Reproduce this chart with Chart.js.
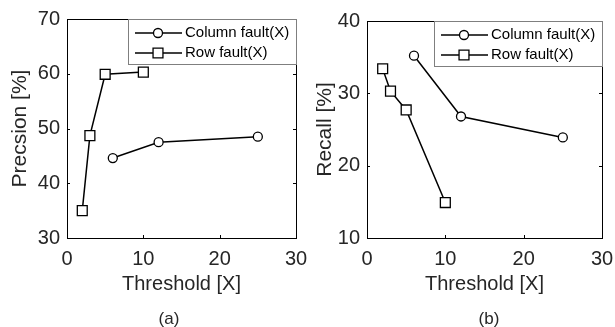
<!DOCTYPE html>
<html>
<head>
<meta charset="utf-8">
<script src="https://cdn.jsdelivr.net/npm/chart.js@4.4.0/dist/chart.umd.min.js"></script>
<style>
  body { margin: 0; background: #fff; width: 615px; height: 327px; overflow: hidden; position: relative; font-family: 'Liberation Sans', Arial, sans-serif; }
  .panel { position: absolute; top: 0; height: 327px; }
  .cap { position: absolute; top: 309px; font-size: 17px; color: #262626; transform: translateX(-50%); }
</style>
</head>
<body>
<div class="panel" style="left:0;width:307px"><canvas id="chartA" width="307" height="327"></canvas></div>
<div class="panel" style="left:307px;width:308px"><canvas id="chartB" width="308" height="327"></canvas></div>
<div class="cap" style="left:169px">(a)</div>
<div class="cap" style="left:489px">(b)</div>
<script>
'use strict'

// thresholds used for each fault type
var colX = [6, 12, 25];
var rowX = [2, 3, 5, 10];

// (a) precision
var colPrecision = [44.6, 47.5, 48.5];
var rowPrecision = [35.0, 48.7, 59.9, 60.3];

// (b) recall
var colRecall = [35.2, 26.8, 23.9];
var rowRecall = [33.4, 30.3, 27.7, 14.9];

var legendLabels = ['Column fault(X)', 'Row fault(X)'];
var xTicks = [0, 10, 20, 30];

var FONT = "'Liberation Sans', Arial, sans-serif";
var TEXT = '#262626';

function toPoints(xs, ys) {
    let pts = [];
    for (let i = 0; i < xs.length; i++) {
        pts.push({x: xs[i], y: ys[i]});
    }
    return pts;
}

// box around plot, inward ticks on all sides, legend in top right corner
var frame = {
    id: 'frame',
    afterDatasetsDraw(chart) {
        const ctx = chart.ctx;
        const a = chart.chartArea;
        const sx = chart.scales.x, sy = chart.scales.y;
        ctx.save();
        ctx.strokeStyle = '#000';
        ctx.lineWidth = 1;
        ctx.strokeRect(a.left + 0.5, a.top + 0.5, a.right - a.left, a.bottom - a.top);
        sx.ticks.forEach(t => {
            let px = Math.round(sx.getPixelForValue(t.value)) + 0.5;
            ctx.beginPath();
            ctx.moveTo(px, a.bottom); ctx.lineTo(px, a.bottom - 3);
            ctx.moveTo(px, a.top); ctx.lineTo(px, a.top + 3);
            ctx.stroke();
        });
        sy.ticks.forEach(t => {
            let py = Math.round(sy.getPixelForValue(t.value)) + 0.5;
            ctx.beginPath();
            ctx.moveTo(a.left, py); ctx.lineTo(a.left + 3, py);
            ctx.moveTo(a.right, py); ctx.lineTo(a.right - 3, py);
            ctx.stroke();
        });

        // legend
        const w = 168, h = 45;
        const lx = a.right - w, ly = a.top;
        ctx.fillStyle = '#fff';
        ctx.fillRect(lx, ly, w, h);
        ctx.strokeStyle = '#7f7f7f';
        ctx.strokeRect(lx + 0.5, ly + 0.5, w, h);
        chart.data.datasets.forEach((ds, i) => {
            let yy = ly + 14 + i * 20;
            ctx.strokeStyle = ds.borderColor;
            ctx.lineWidth = ds.borderWidth;
            ctx.beginPath();
            ctx.moveTo(lx + 7, yy); ctx.lineTo(lx + 54, yy);
            ctx.stroke();
            ctx.fillStyle = '#fff';
            ctx.strokeStyle = '#000';
            ctx.lineWidth = ds.pointBorderWidth;
            Chart.helpers.drawPoint(ctx, {
                pointStyle: ds.pointStyle,
                radius: ds.pointRadius,
                borderWidth: ds.pointBorderWidth,
                rotation: 0
            }, lx + 30, yy);
            ctx.fillStyle = '#000';
            ctx.font = '15px ' + FONT;
            ctx.textBaseline = 'middle';
            ctx.textAlign = 'left';
            ctx.fillText(ds.label, lx + 57, yy);
        });
        ctx.restore();
    }
};

function makeChart(id, colY, rowY, yMin, yMax, yTitle, pad) {
    let ctx = document.getElementById(id).getContext('2d');
    let common = {
        borderColor: '#000',
        borderWidth: 1.5,
        pointBackgroundColor: '#fff',
        pointBorderColor: '#000',
        pointBorderWidth: 1.3,
        backgroundColor: '#fff',
        tension: 0
    };
    return new Chart(ctx, {
        type: 'line',
        data: {
            datasets: [
                Object.assign({label: legendLabels[0], data: toPoints(colX, colY), pointStyle: 'circle', pointRadius: 4.5}, common),
                Object.assign({label: legendLabels[1], data: toPoints(rowX, rowY), pointStyle: 'rect', pointRadius: 7}, common)
            ]
        },
        options: {
            responsive: false,
            animation: false,
            layout: {padding: {left: 0, right: pad.right, top: pad.top, bottom: 327 - pad.bottom - 60}},
            plugins: {legend: {display: false}, tooltip: {enabled: false}},
            scales: {
                x: {
                    type: 'linear', min: 0, max: 30,
                    afterBuildTicks: s => { s.ticks = xTicks.map(v => ({value: v})); },
                    afterFit: s => { s.height = 60; s.paddingLeft = 0; s.paddingRight = 0; },
                    grid: {display: false, drawTicks: false},
                    border: {display: false},
                    ticks: {padding: 9, color: TEXT, font: {family: FONT, size: 20}},
                    title: {display: true, text: 'Threshold [X]', color: TEXT, font: {family: FONT, size: 20}, padding: {top: 0, bottom: 2}}
                },
                y: {
                    min: yMin, max: yMax,
                    ticks: {stepSize: 10, padding: 7, color: TEXT, font: {family: FONT, size: 20}},
                    afterFit: s => { s.width = pad.left; s.paddingTop = 0; s.paddingBottom = 0; },
                    grid: {display: false, drawTicks: false},
                    border: {display: false},
                    title: {display: true, text: yTitle, color: TEXT, font: {family: FONT, size: 21}, padding: {top: pad.title, bottom: 0}}
                }
            }
        },
        plugins: [frame]
    });
}

makeChart('chartA', colPrecision, rowPrecision, 30, 70, 'Precsion [%]', {left: 67, right: 11, top: 19, bottom: 238, title: 8});
makeChart('chartB', colRecall, rowRecall, 10, 40, 'Recall [%]', {left: 60, right: 13, top: 21, bottom: 238, title: 6});
</script>
</body>
</html>
